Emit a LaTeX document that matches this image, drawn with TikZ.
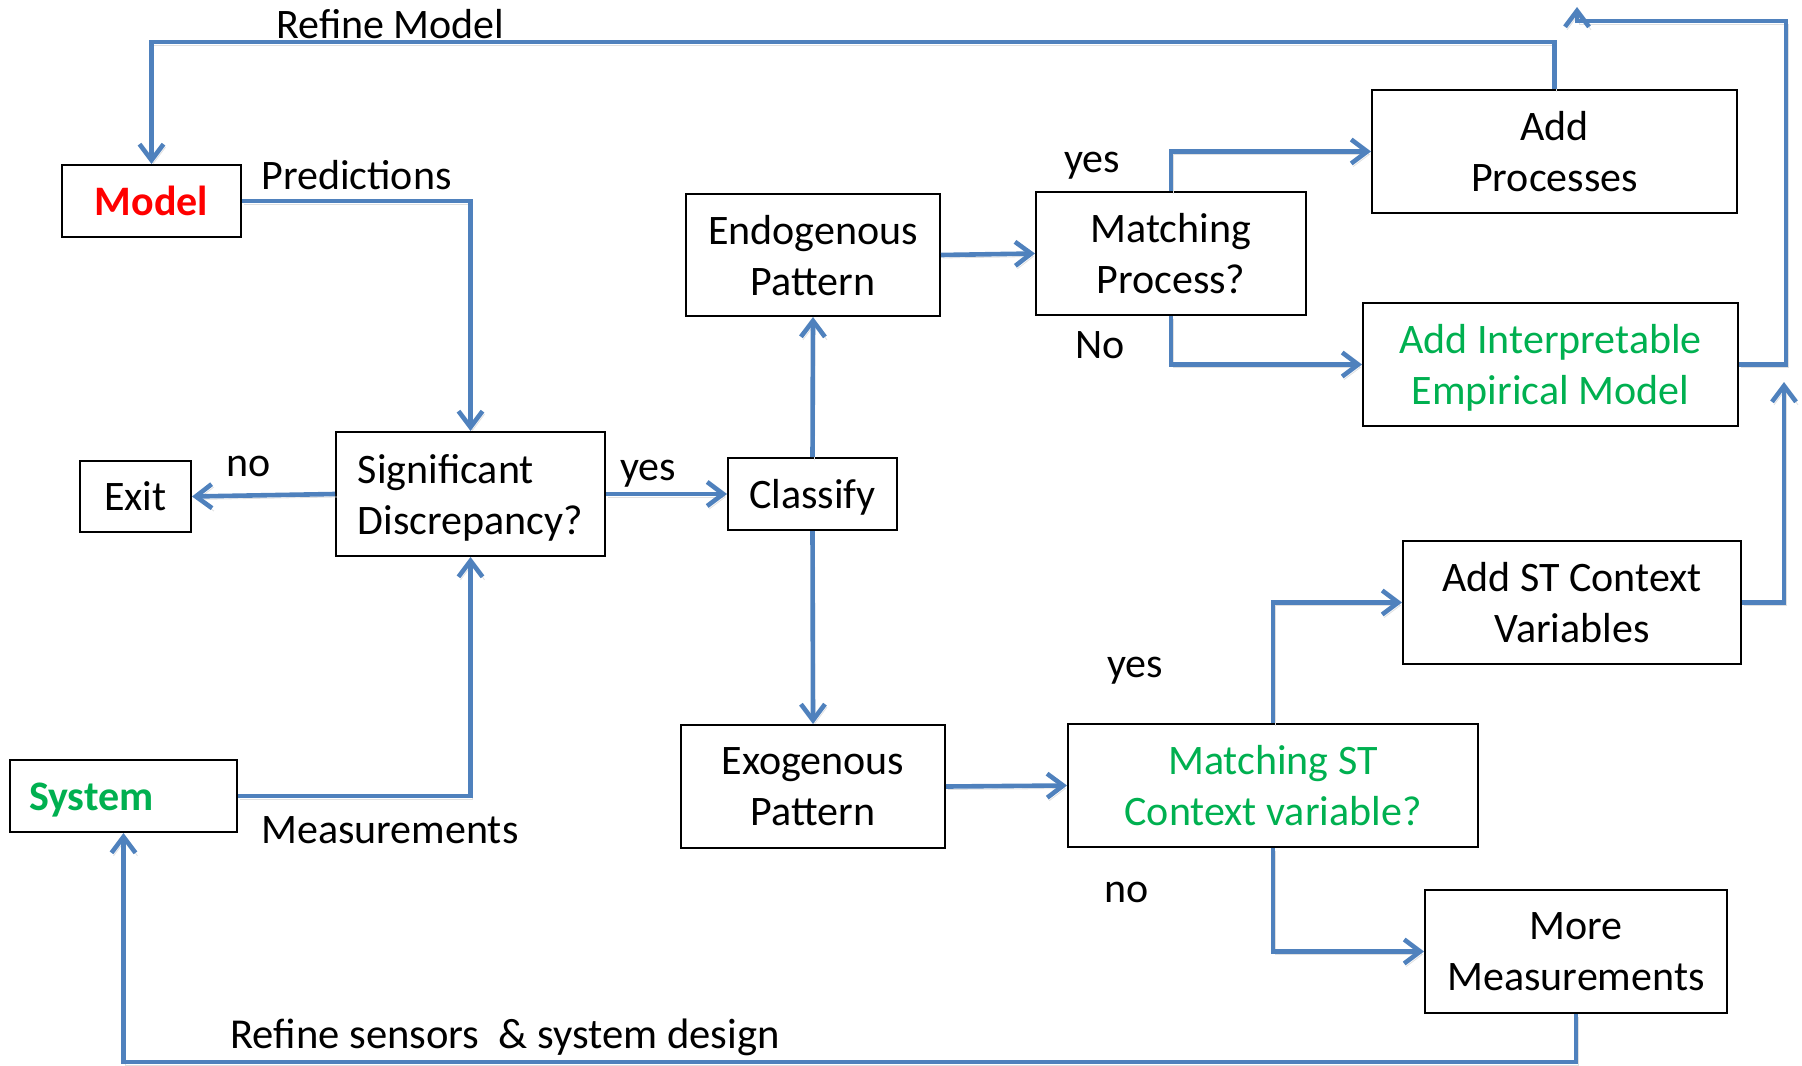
\documentclass[tikz,border=0pt]{standalone}
\usepackage{fontspec}
\setmainfont{Carlito}
\usetikzlibrary{arrows.meta}
\definecolor{lineblue}{RGB}{79,129,189}
\definecolor{txtgreen}{RGB}{0,176,80}
\begin{document}
\begin{tikzpicture}[x=0.5pt,y=-0.5pt,
  box/.style={draw=black, line width=1pt, inner sep=0pt, align=center, font=\fontsize{21}{25.5}\selectfont},
  onebox/.style={box, text height=18pt, text depth=4pt},
  twobox/.style={box, text depth=0pt},
  arr/.style={draw=lineblue, line width=2.3pt, -{Straight Barb[length=8pt,width=12pt]},
    preaction={draw=black!12, transform canvas={xshift=1pt,yshift=-1.5pt}}},
  lbl/.style={inner sep=0pt, anchor=base west, font=\fontsize{21}{25.5}\selectfont}]
\useasboundingbox (0,0) rectangle (1802,1065);

\node[onebox, minimum width=89.5pt, minimum height=36pt, text=red, font=\bfseries\fontsize{21}{25.5}\selectfont] (model) at (151.5,201) {Model};
\node[onebox, minimum width=55.5pt, minimum height=35.5pt] (exit) at (135.5,496.5) {Exit};
\node[twobox, align=left, minimum width=134.5pt, minimum height=62pt] (sig) at (470.5,494) {Significant\\Discrepancy?};
\node[onebox, align=left, text width=94.5pt, inner xsep=9.5pt, minimum height=36pt, text=txtgreen, font=\bfseries\fontsize{21}{25.5}\selectfont] (system) at (123.5,796) {System};
\node[onebox, minimum width=84.5pt, minimum height=36pt] (classify) at (812.5,494) {Classify};
\node[twobox, minimum width=127pt, minimum height=61pt] (endo) at (813,255) {Endogenous\\Pattern};
\node[twobox, minimum width=132pt, minimum height=61.5pt] (exo) at (813,786.5) {Exogenous\\Pattern};
\node[twobox, minimum width=135pt, minimum height=61.5pt] (match) at (1171,253.5) {Matching\\Process?};
\node[twobox, minimum width=182.5pt, minimum height=61.5pt] (addp) at (1554.5,151.5) {Add\\Processes};
\node[twobox, minimum width=187.5pt, minimum height=61.5pt, text=txtgreen] (addie) at (1550.5,364.5) {Add Interpretable\\Empirical Model};
\node[twobox, minimum width=169pt, minimum height=61.5pt] (addst) at (1572,602.5) {Add ST Context\\Variables};
\node[twobox, minimum width=205pt, minimum height=61.5pt, text=txtgreen] (mst) at (1273,785.5) {Matching ST\\Context variable?};
\node[twobox, minimum width=151pt, minimum height=61.5pt] (more) at (1576,951.5) {More\\Measurements};

\node[lbl] (lrm) at (276,39) {Refine Model};
\node[lbl] (lpred) at (261,189) {Predictions};
\node[lbl] (lmeas) at (261,843) {Measurements};
\node[lbl, font=\fontsize{21.3}{25.5}\selectfont] (lrs) at (230,1048) {Refine sensors\ \ \& system design};
\node[lbl] (lno1) at (226,476) {no};
\node[lbl] (lyes1) at (620,480) {yes};
\node[lbl] (lyes2) at (1064,172) {yes};
\node[lbl] (lno2) at (1075,358) {No};
\node[lbl] (lyes3) at (1107,677) {yes};
\node[lbl] (lno3) at (1104,902) {no};

\coordinate (topy) at (0,42);
\coordinate (tr) at (1786,21);
\coordinate (tend) at (1577,7);
\coordinate (m1) at (1784,382);
\coordinate (boty) at (0,1062);

\draw[arr] (model.east) -| (sig.north);
\draw[arr] (system.east) -| (sig.south);
\draw[arr] (sig.west) -- (exit.east);
\draw[arr] (sig.east) -- (classify.west);
\draw[arr] (classify.north) -- (endo.south);
\draw[arr] (classify.south) -- (exo.north);
\draw[arr] (endo.east) -- (match.west);
\draw[arr] (match.north) |- (addp.west);
\draw[arr] (match.south) |- (addie.west);
\draw[arr] (addp.north) |- (model.north |- topy) -- (model.north);
\draw[arr] (addie.east) -| (tr) -| (tend);
\draw[arr] (addst.east) -| (m1);
\draw[arr] (exo.east) -- (mst.west);
\draw[arr] (mst.north) |- (addst.west);
\draw[arr] (mst.south) |- (more.west);
\draw[arr] (more.south) |- (system.south |- boty) -- (system.south);
\end{tikzpicture}
\end{document}
